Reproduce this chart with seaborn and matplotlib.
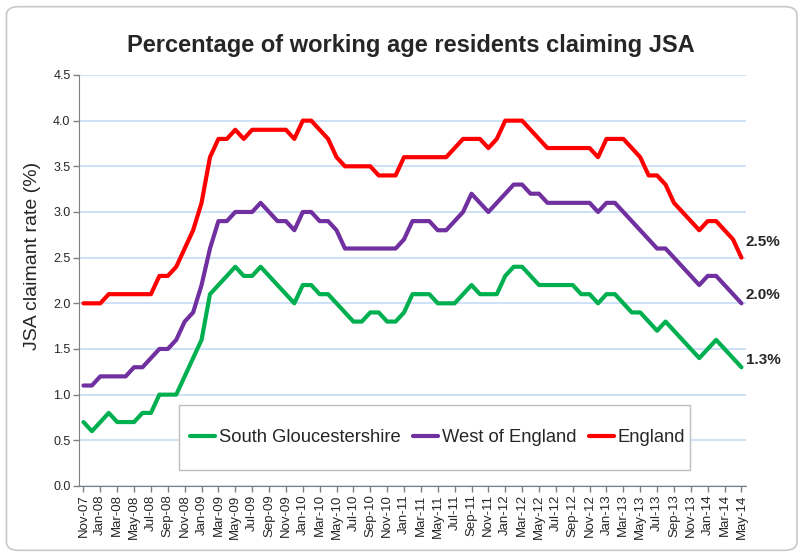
import numpy as np
import pandas as pd
import seaborn as sns
import matplotlib.pyplot as plt
from matplotlib.patches import FancyBboxPatch, Rectangle

# monthly claimant rates, Nov-07 .. May-14
months = pd.date_range("2007-11-01", periods=79, freq="MS").strftime("%b-%y").tolist()

south_glos = [0.7, 0.6, 0.7, 0.8, 0.7, 0.7, 0.7, 0.8, 0.8, 1.0,
              1.0, 1.0, 1.2, 1.4, 1.6, 2.1, 2.2, 2.3, 2.4, 2.3,
              2.3, 2.4, 2.3, 2.2, 2.1, 2.0, 2.2, 2.2, 2.1, 2.1,
              2.0, 1.9, 1.8, 1.8, 1.9, 1.9, 1.8, 1.8, 1.9, 2.1,
              2.1, 2.1, 2.0, 2.0, 2.0, 2.1, 2.2, 2.1, 2.1, 2.1,
              2.3, 2.4, 2.4, 2.3, 2.2, 2.2, 2.2, 2.2, 2.2, 2.1,
              2.1, 2.0, 2.1, 2.1, 2.0, 1.9, 1.9, 1.8, 1.7, 1.8,
              1.7, 1.6, 1.5, 1.4, 1.5, 1.6, 1.5, 1.4, 1.3]

west_england = [1.1, 1.1, 1.2, 1.2, 1.2, 1.2, 1.3, 1.3, 1.4, 1.5,
                1.5, 1.6, 1.8, 1.9, 2.2, 2.6, 2.9, 2.9, 3.0, 3.0,
                3.0, 3.1, 3.0, 2.9, 2.9, 2.8, 3.0, 3.0, 2.9, 2.9,
                2.8, 2.6, 2.6, 2.6, 2.6, 2.6, 2.6, 2.6, 2.7, 2.9,
                2.9, 2.9, 2.8, 2.8, 2.9, 3.0, 3.2, 3.1, 3.0, 3.1,
                3.2, 3.3, 3.3, 3.2, 3.2, 3.1, 3.1, 3.1, 3.1, 3.1,
                3.1, 3.0, 3.1, 3.1, 3.0, 2.9, 2.8, 2.7, 2.6, 2.6,
                2.5, 2.4, 2.3, 2.2, 2.3, 2.3, 2.2, 2.1, 2.0]

england = [2.0, 2.0, 2.0, 2.1, 2.1, 2.1, 2.1, 2.1, 2.1, 2.3,
           2.3, 2.4, 2.6, 2.8, 3.1, 3.6, 3.8, 3.8, 3.9, 3.8,
           3.9, 3.9, 3.9, 3.9, 3.9, 3.8, 4.0, 4.0, 3.9, 3.8,
           3.6, 3.5, 3.5, 3.5, 3.5, 3.4, 3.4, 3.4, 3.6, 3.6,
           3.6, 3.6, 3.6, 3.6, 3.7, 3.8, 3.8, 3.8, 3.7, 3.8,
           4.0, 4.0, 4.0, 3.9, 3.8, 3.7, 3.7, 3.7, 3.7, 3.7,
           3.7, 3.6, 3.8, 3.8, 3.8, 3.7, 3.6, 3.4, 3.4, 3.3,
           3.1, 3.0, 2.9, 2.8, 2.9, 2.9, 2.8, 2.7, 2.5]

series_names = ["South Gloucestershire", "West of England", "England"]
series_vals = [south_glos, west_england, england]
colors = ["#00B050", "#7030A0", "#FF0000"]
end_offsets = [(3, 0.5), (3, 1), (3, 6)]

sns.set_style("white")
plt.rcParams["font.family"] = ["Liberation Sans", "DejaVu Sans"]

fig = plt.figure(figsize=(8.05, 5.57), dpi=100)
ax = fig.add_axes([0.0979, 0.1275, 0.8284, 0.7379])

# chart border
fig.patches.append(FancyBboxPatch((0.008, 0.012), 0.982, 0.976,
                                  boxstyle="round,pad=0,rounding_size=0.015",
                                  transform=fig.transFigure, facecolor="none",
                                  edgecolor="#c8c8c8", linewidth=1.2))

x = np.arange(len(months))
for name, vals, col, off in zip(series_names, series_vals, colors, end_offsets):
    sns.lineplot(x=x, y=vals, ax=ax, color=col, linewidth=3, label=name,
                 solid_joinstyle="round", solid_capstyle="round")
    ax.annotate(f"{vals[-1]:.1f}%", xy=(x[-1], vals[-1]), xytext=off,
                textcoords="offset points", fontsize=11, fontweight="bold",
                ha="left", va="bottom")

ax.set_xlim(-0.55, 78.5)
ax.set_ylim(0, 4.5)
ax.set_yticks(np.arange(0, 4.51, 0.5))
ax.set_yticklabels([f"{v:.1f}" for v in np.arange(0, 4.51, 0.5)], fontsize=9)
ax.set_xticks(x[::2])
ax.set_xticklabels(months[::2], rotation=90, fontsize=9.5)
ax.tick_params(axis="both", direction="out", length=4, width=1, color="#808080",
               left=True, bottom=True, pad=2)

ax.yaxis.grid(True, color="#c6dcf5", linewidth=1.2)
ax.set_axisbelow(True)
for s in ["top", "right"]:
    ax.spines[s].set_visible(False)
ax.spines["left"].set_color("#808080")
ax.spines["bottom"].set_color("#808080")

ax.set_ylabel("JSA claimant rate (%)", fontsize=14)
ax.yaxis.set_label_coords(-0.056, 0.56)
ax.set_xlabel("")
fig.text(0.51, 0.918, "Percentage of working age residents claiming JSA",
         ha="center", va="center", fontsize=17, fontweight="bold")

# legend box drawn separately so it can be taller than the entries
ax.add_patch(Rectangle((0.150, 0.039), 0.7665, 0.158, transform=ax.transAxes,
                       facecolor="white", edgecolor="#bfbfbf", linewidth=1,
                       zorder=4))
leg = ax.legend(loc="center", bbox_to_anchor=(0.538, 0.118), ncol=3,
                fontsize=13.2, frameon=False, handlelength=1.35,
                handletextpad=0.2, columnspacing=0.7)
leg.set_zorder(5)

fig.savefig("out.png", dpi=100)
